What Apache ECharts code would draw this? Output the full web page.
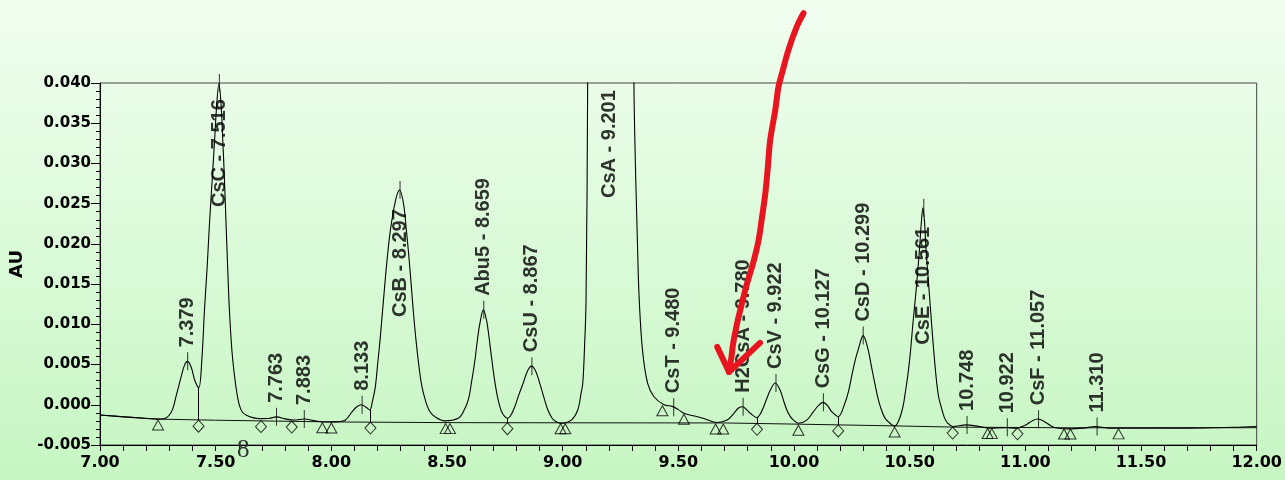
<!DOCTYPE html>
<html><head><meta charset="utf-8">
<script src="https://cdn.jsdelivr.net/npm/echarts@6/dist/echarts.min.js"></script>
<style>html,body{margin:0;padding:0;}#c{width:1285px;height:480px;}</style>
</head><body><div id="c"></div>
<script>
// ---- signal trace (minutes, AU) ----
const sigX = [7.00,7.10,7.20,7.25,7.28,7.31,7.33,7.35,7.365,7.379,7.395,7.41,7.427,7.44,7.452,7.463,7.473,7.485,7.495,7.505,7.514,7.523,7.531,7.538,7.545,7.552,7.559,7.570,7.581,7.592,7.602,7.615,7.631,7.66,7.69,7.73,7.763,7.80,7.84,7.883,7.93,7.98,8.03,8.061,8.09,8.11,8.130,8.150,8.166,8.178,8.19,8.20,8.212,8.234,8.250,8.262,8.280,8.295,8.312,8.325,8.334,8.345,8.355,8.366,8.377,8.39,8.406,8.425,8.449,8.49,8.549,8.57,8.592,8.607,8.621,8.632,8.642,8.657,8.671,8.682,8.692,8.706,8.721,8.735,8.750,8.762,8.778,8.793,8.810,8.829,8.848,8.865,8.883,8.901,8.92,8.936,8.955,8.972,8.994,9.037,9.065,9.080,9.087,9.094,9.101,9.108,9.115,9.20,9.30,9.308,9.324,9.331,9.345,9.367,9.395,9.438,9.474,9.50,9.524,9.57,9.61,9.668,9.711,9.740,9.760,9.778,9.795,9.811,9.840,9.855,9.869,9.884,9.897,9.919,9.940,9.955,9.969,9.985,9.998,10.019,10.055,10.084,10.105,10.125,10.145,10.163,10.191,10.220,10.235,10.249,10.264,10.277,10.299,10.320,10.335,10.349,10.363,10.378,10.392,10.407,10.435,10.455,10.471,10.482,10.493,10.504,10.514,10.528,10.542,10.550,10.557,10.564,10.571,10.586,10.600,10.614,10.625,10.636,10.650,10.665,10.686,10.744,10.801,10.844,10.916,10.959,11.002,11.030,11.052,11.070,11.088,11.11,11.131,11.188,11.25,11.303,11.36,11.475,11.70,11.90,12.00];
const sigY = [-0.00128,-0.00150,-0.00170,-0.00178,-0.00170,-0.00080,0.0012,0.0034,0.0049,0.0054,0.0046,0.0030,0.0021,0.0055,0.0120,0.0170,0.0224,0.0280,0.0327,0.0375,0.0399,0.0375,0.0327,0.0280,0.0224,0.0170,0.0120,0.0068,0.0037,0.0014,0.0000,-0.0009,-0.00127,-0.00160,-0.00172,-0.00170,-0.00150,-0.00175,-0.00190,-0.00177,-0.00200,-0.00215,-0.00210,-0.00190,-0.00086,-0.00025,0.0000,-0.00030,-0.00065,0.0005,0.0022,0.0050,0.0085,0.0159,0.0205,0.0230,0.0257,0.0267,0.0250,0.0215,0.0188,0.0150,0.0114,0.0080,0.0052,0.0025,0.0006,-0.0008,-0.0015,-0.0020,-0.00168,-0.0009,0.0006,0.0030,0.0056,0.0082,0.0101,0.0118,0.0105,0.0083,0.0060,0.0030,0.0006,-0.0008,-0.00148,-0.00168,-0.0012,-0.00024,0.0012,0.00267,0.0042,0.0048,0.0042,0.00267,0.0008,-0.00065,-0.0017,-0.0021,-0.0023,-0.0019,-0.00065,0.0015,0.0027,0.0068,0.0130,0.0400,0.1,0.5,0.1,0.0400,0.0192,0.0130,0.0068,0.0027,0.0010,0.0000,-0.0002,-0.0006,-0.00106,-0.0014,-0.0017,-0.0022,-0.0019,-0.00106,-0.0004,-0.00024,-0.0006,-0.00106,-0.0016,-0.0011,-0.00024,0.0009,0.0018,0.0027,0.0018,0.0005,-0.00065,-0.0015,-0.0019,-0.0023,-0.0019,-0.00086,-0.0001,0.0003,-0.0001,-0.00086,-0.00148,0.0002,0.0016,0.0035,0.0055,0.0068,0.0086,0.0069,0.0047,0.0027,0.0008,-0.00065,-0.0016,-0.0021,-0.00265,-0.0018,-0.00024,0.0017,0.0039,0.0068,0.0101,0.0143,0.0192,0.0225,0.0245,0.0228,0.0192,0.0134,0.0081,0.0035,0.0010,-0.00024,-0.0016,-0.0023,-0.0027,-0.0025,-0.0027,-0.0029,-0.00285,-0.0029,-0.0025,-0.0020,-0.00177,-0.0019,-0.0022,-0.0026,-0.00285,-0.0030,-0.0029,-0.0027,-0.0029,-0.0029,-0.0029,-0.0028,-0.0027];

// ---- integration baseline ----
const baseX = [7.00,7.25,7.50,8.00,8.50,9.00,9.70,10.00,10.43,10.70,11.20,12.00];
const baseY = [-0.00128,-0.00178,-0.00192,-0.00213,-0.00222,-0.00224,-0.00226,-0.00240,-0.00262,-0.00278,-0.00286,-0.00285];

// ---- peaks ----
const peakLabels = ['7.379','CsC - 7.516','7.763','7.883','8.133','CsB - 8.297','Abu5 - 8.659','CsU - 8.867','CsA - 9.201','CsT - 9.480','H2CsA - 9.780','CsV - 9.922','CsG - 10.127','CsD - 10.299','CsE - 10.561','10.748','10.922','CsF - 11.057','11.310'];
const peakX = [7.379,7.516,7.763,7.883,8.133,8.297,8.659,8.867,9.201,9.480,9.780,9.922,10.127,10.299,10.561,10.748,10.922,11.057,11.310];
const peakY = [0.0054,0.0400,-0.0015,-0.00177,0.0000,0.0267,0.0118,0.0048,0.0400,-0.0003,-0.00024,0.0027,0.0003,0.0086,0.0245,-0.0025,-0.0028,-0.0018,-0.0027];

// ---- integration markers ----
const triX = [7.251,7.961,8.000,8.494,8.513,8.991,9.011,9.431,9.524,9.661,9.694,10.019,10.435,10.837,10.855,11.167,11.195,11.403];
const triY = [-0.00178,-0.00212,-0.00213,-0.00222,-0.00222,-0.00224,-0.00224,0.0000,-0.00106,-0.00226,-0.00226,-0.00241,-0.00265,-0.00283,-0.00284,-0.00288,-0.00288,-0.00287];
const diaX = [7.426,7.696,7.829,8.169,8.761,9.840,10.191,10.686,10.966];
const diaY = [-0.00192,-0.00197,-0.00203,-0.00215,-0.00223,-0.00231,-0.00250,-0.00277,-0.00286];
const dropX = [7.426,8.169,8.761,9.840,10.191];
const dropTop = [0.0021,-0.00065,-0.00168,-0.0016,-0.00148];
const dropBottom = [-0.00192,-0.00215,-0.00223,-0.00231,-0.00250];

// ---- hand-drawn red arrow ----
const arrowX = [10.041,10.012,9.976,9.948,9.933,9.919,9.897,9.887,9.876,9.862,9.847,9.823,9.797,9.775,9.754,9.737,9.729,9.719];
const arrowY = [0.04867,0.0470,0.04411,0.04121,0.03955,0.03665,0.03292,0.02960,0.02629,0.02338,0.02049,0.01759,0.01510,0.01262,0.01013,0.00765,0.00580,0.00408];
const headX = [9.668,9.719,9.853];
const headY = [0.0072,0.00408,0.0077];

// label placement tweaks (px), style only
const labelDistance = {'CsC - 7.516': -133, 'CsB - 8.297': -136, 'CsA - 9.201': -124, 'CsE - 10.561': -146};
const hiddenTick = {'CsA - 9.201': true};

const zip = (a, b) => a.map((v, i) => [v, b[i]]);
const axisFont = 'DejaVu Sans';

const chart = echarts.init(document.getElementById('c'), null, {renderer: 'canvas'});
chart.setOption({
  animation: false,
  backgroundColor: {type: 'linear', x: 0, y: 0, x2: 0, y2: 1,
    colorStops: [{offset: 0, color: '#f1fef0'}, {offset: 1, color: '#c6f6c2'}]},
  graphic: [{type: 'text', left: 237, top: 438, z: 10,
    style: {text: '8', font: '25px "Liberation Serif"', fill: '#333'}}],
  grid: {left: 100, right: 23, top: 83, bottom: 35, show: true, borderColor: '#444', borderWidth: 1, backgroundColor: 'transparent'},
  xAxis: {
    type: 'value', min: 7, max: 12, interval: 0.5,
    axisLine: {show: true, onZero: false, lineStyle: {color: '#000', width: 1}},
    axisTick: {show: true, length: 6, lineStyle: {color: '#000'}},
    minorTick: {show: true, splitNumber: 5, length: 6, lineStyle: {color: '#000'}},
    splitLine: {show: false},
    axisLabel: {color: '#000', fontFamily: axisFont, fontWeight: 'bold', fontSize: 16, margin: 10,
      formatter: v => v.toFixed(2)}
  },
  yAxis: {
    type: 'value', min: -0.005, max: 0.040, interval: 0.005,
    name: 'AU', nameLocation: 'middle', nameGap: 68, nameRotate: 90,
    nameTextStyle: {color: '#000', fontFamily: axisFont, fontWeight: 'bold', fontSize: 18},
    axisLine: {show: true, onZero: false, lineStyle: {color: '#000', width: 1}},
    axisTick: {show: true, length: 9, lineStyle: {color: '#000'}},
    minorTick: {show: true, splitNumber: 5, length: 4, lineStyle: {color: '#000'}},
    splitLine: {show: false},
    axisLabel: {color: '#000', fontFamily: axisFont, fontWeight: 'bold', fontSize: 15, margin: 9,
      formatter: v => v.toFixed(3)}
  },
  series: [
    {type: 'line', name: 'signal', data: zip(sigX, sigY), showSymbol: false, symbol: 'none',
      smooth: 0.35, clip: true, lineStyle: {color: '#000', width: 1.1}, z: 3, silent: true},
    {type: 'line', name: 'baseline', data: zip(baseX, baseY), showSymbol: false, symbol: 'none',
      clip: true, lineStyle: {color: '#111', width: 1}, z: 2, silent: true,
      markLine: {silent: true, symbol: ['none', 'none'], label: {show: false},
        lineStyle: {color: '#000', width: 1, type: 'solid'},
        data: dropX.map((x, i) => [{coord: [x, dropTop[i]]}, {coord: [x, dropBottom[i]]}])}},
    {type: 'scatter', name: 'start/end', data: zip(triX, triY), symbol: 'triangle', symbolSize: [11, 10],
      symbolOffset: [0, 6], clip: false, silent: true, z: 4,
      itemStyle: {color: 'rgba(0,0,0,0)', borderColor: '#000', borderWidth: 1}},
    {type: 'scatter', name: 'drop', data: zip(diaX, diaY), symbol: 'diamond', symbolSize: [11, 12],
      symbolOffset: [0, 6], clip: false, silent: true, z: 4,
      itemStyle: {color: 'rgba(0,0,0,0)', borderColor: '#000', borderWidth: 1}},
    {type: 'scatter', name: 'peaks', clip: false, silent: true, z: 5, symbol: 'rect', symbolSize: [1, 18],
      itemStyle: {color: '#000'},
      label: {show: true, position: 'top', distance: 5, rotate: 90, align: 'left', verticalAlign: 'middle',
        formatter: '{b}', color: '#000', fontFamily: 'Liberation Sans', fontWeight: 'bold', fontSize: 20},
      data: peakLabels.map((n, i) => {
        const d = {name: n, value: [peakX[i], peakY[i]]};
        if (labelDistance[n] !== undefined) d.label = {distance: labelDistance[n]};
        if (hiddenTick[n]) d.itemStyle = {color: 'rgba(0,0,0,0)'};
        return d;
      })},
    {type: 'line', name: 'arrow', data: zip(arrowX, arrowY), showSymbol: false, symbol: 'none', smooth: 0.3,
      clip: false, silent: true, z: 10,
      lineStyle: {color: '#e8141f', width: 6, cap: 'round', join: 'round'}},
    {type: 'line', name: 'arrowhead', data: zip(headX, headY), showSymbol: false, symbol: 'none',
      clip: false, silent: true, z: 10,
      lineStyle: {color: '#e8141f', width: 6, cap: 'round', join: 'round'}}
  ]
});
</script></body></html>
